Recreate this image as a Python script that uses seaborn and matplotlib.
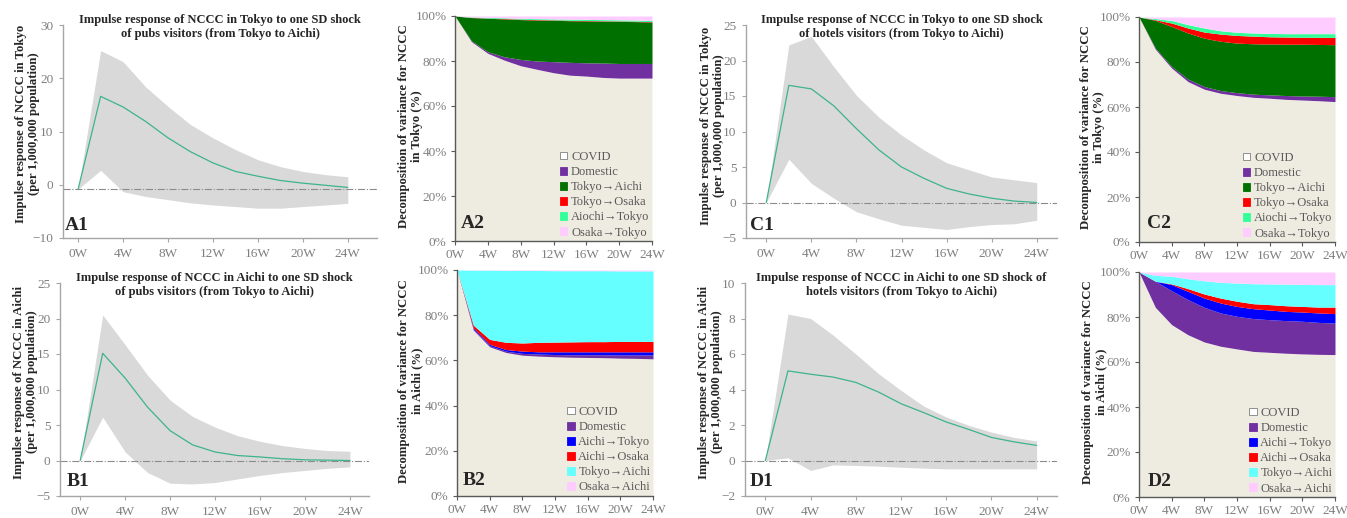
import matplotlib
matplotlib.use('Agg')
import matplotlib.pyplot as plt
from matplotlib.patches import Patch
import seaborn as sns
import pandas as pd

sns.set_theme(style='white')
plt.rcParams['font.family'] = ['Liberation Serif', 'DejaVu Serif']

# ---- data ---------------------------------------------------------------
weeks = [0, 2, 4, 6, 8, 10, 12, 14, 16, 18, 20, 22, 24]
tick_weeks = [0, 4, 8, 12, 16, 20, 24]
tick_week_labels = ['0W', '4W', '8W', '12W', '16W', '20W', '24W']

# impulse responses (median, upper, lower)
a1_resp = [-0.8, 16.6, 14.6, 11.9, 8.8, 6.2, 4.1, 2.5, 1.6, 0.8, 0.3, -0.1, -0.5]
a1_upper = [-0.8, 25.2, 23.1, 18.4, 14.7, 11.3, 8.8, 6.6, 4.7, 3.4, 2.5, 1.9, 1.5]
a1_lower = [-0.8, 2.7, -1.3, -2.2, -2.8, -3.4, -3.8, -4.1, -4.4, -4.4, -4.1, -3.8, -3.5]
a1_base = -0.8

c1_resp = [0.0, 16.5, 16.0, 13.6, 10.4, 7.4, 5.0, 3.4, 2.0, 1.2, 0.6, 0.2, 0.0]
c1_upper = [0.0, 22.2, 23.4, 19.1, 15.1, 12.0, 9.5, 7.4, 5.6, 4.6, 3.6, 3.2, 2.8]
c1_lower = [0.0, 6.1, 2.7, 0.6, -1.3, -2.3, -3.2, -3.5, -3.8, -3.4, -3.1, -3.0, -2.5]

b1_resp = [0.0, 15.1, 11.6, 7.5, 4.2, 2.2, 1.2, 0.7, 0.5, 0.25, 0.1, 0.05, 0.0]
b1_upper = [0.0, 20.5, 16.3, 12.0, 8.5, 6.2, 4.7, 3.5, 2.7, 2.1, 1.7, 1.4, 1.3]
b1_lower = [0.0, 6.1, 1.2, -1.7, -3.2, -3.3, -3.1, -2.6, -2.1, -1.7, -1.4, -1.1, -0.9]

d1_resp = [0.0, 5.05, 4.86, 4.7, 4.4, 3.86, 3.2, 2.7, 2.17, 1.75, 1.3, 1.05, 0.85]
d1_upper = [0.0, 8.25, 8.0, 7.06, 6.0, 4.9, 3.95, 3.07, 2.45, 1.98, 1.6, 1.3, 1.1]
d1_lower = [0.0, 0.15, -0.56, -0.25, -0.28, -0.32, -0.38, -0.43, -0.47, -0.47, -0.47, -0.47, -0.47]

# variance decomposition shares (%)
a2_covid = [100, 88.6, 83.4, 80.4, 77.9, 76.3, 74.8, 73.7, 73.3, 72.7, 72.4, 72.4, 72.4]
a2_domestic = [0, 0.4, 0.7, 1.5, 2.8, 3.7, 4.9, 5.7, 5.9, 6.4, 6.5, 6.5, 6.5]
a2_tokyo_aichi = [0, 10.3, 14.9, 16.8, 17.7, 18.2, 18.4, 18.5, 18.6, 18.6, 18.7, 18.6, 18.4]
a2_tokyo_osaka = [0, 0.1, 0.1, 0.2, 0.2, 0.2, 0.2, 0.2, 0.2, 0.2, 0.2, 0.2, 0.2]
a2_aichi_tokyo = [0, 0.2, 0.3, 0.3, 0.4, 0.4, 0.4, 0.5, 0.5, 0.5, 0.5, 0.5, 0.5]
a2_osaka_tokyo = [0, 0.4, 0.6, 0.8, 1.0, 1.2, 1.3, 1.4, 1.5, 1.6, 1.7, 1.8, 2.0]

c2_covid = [100, 85.7, 77.3, 71.3, 67.9, 66.1, 65.1, 64.3, 63.9, 63.4, 63.1, 62.8, 62.4]
c2_domestic = [0, 0.5, 0.7, 1.1, 1.2, 1.2, 1.3, 1.4, 1.5, 1.7, 1.8, 2.0, 2.2]
c2_tokyo_aichi = [0, 12.3, 17.8, 20.5, 21.5, 21.9, 22.0, 22.4, 22.6, 22.8, 23.0, 23.0, 23.1]
c2_tokyo_osaka = [0, 0.3, 1.5, 2.2, 2.7, 3.2, 3.4, 3.4, 3.2, 3.2, 3.1, 3.2, 3.2]
c2_aichi_tokyo = [0, 0.5, 1.2, 1.5, 1.8, 1.5, 1.4, 1.4, 1.5, 1.5, 1.6, 1.6, 1.7]
c2_osaka_tokyo = [0, 0.7, 1.5, 3.4, 4.9, 6.1, 6.8, 7.1, 7.3, 7.4, 7.4, 7.4, 7.4]

b2_covid = [100, 73.4, 66.0, 63.5, 62.3, 61.9, 61.6, 61.4, 61.3, 61.2, 61.0, 60.9, 60.7]
b2_domestic = [0, 0.5, 0.5, 0.6, 0.8, 0.9, 1.0, 1.1, 1.2, 1.3, 1.4, 1.5, 1.7]
b2_aichi_tokyo = [0, 0.5, 0.6, 0.7, 1.0, 1.0, 1.2, 1.3, 1.3, 1.3, 1.4, 1.4, 1.4]
b2_aichi_osaka = [0, 1.2, 2.2, 3.2, 3.6, 4.2, 4.3, 4.4, 4.5, 4.5, 4.6, 4.6, 4.6]
b2_tokyo_aichi = [0, 24.3, 30.6, 31.8, 32.1, 31.8, 31.6, 31.5, 31.4, 31.4, 31.2, 31.2, 31.2]
b2_osaka_aichi = [0, 0.1, 0.1, 0.2, 0.2, 0.2, 0.3, 0.3, 0.3, 0.3, 0.4, 0.4, 0.4]

d2_covid = [100, 84.3, 76.6, 72.1, 68.9, 67.0, 65.8, 64.7, 64.3, 63.9, 63.6, 63.4, 63.3]
d2_domestic = [0, 11.6, 15.1, 15.6, 15.4, 14.8, 14.5, 14.6, 14.5, 14.5, 14.5, 14.2, 14.0]
d2_aichi_tokyo = [0, 0.0, 2.7, 3.7, 4.1, 4.4, 4.4, 4.4, 4.3, 4.1, 4.1, 4.2, 4.2]
d2_aichi_osaka = [0, 0.0, 0.3, 1.2, 1.8, 2.2, 2.3, 2.2, 2.4, 2.5, 2.5, 2.6, 2.9]
d2_tokyo_aichi = [0, 2.6, 3.4, 4.4, 5.9, 7.0, 8.1, 8.9, 9.2, 9.6, 9.8, 10.0, 10.0]
d2_osaka_aichi = [0, 1.5, 1.9, 3.0, 3.9, 4.6, 4.9, 5.2, 5.3, 5.4, 5.5, 5.6, 5.6]

tokyo_labels = ['COVID', 'Domestic', 'Tokyo→Aichi', 'Tokyo→Osaka', 'Aiochi→Tokyo', 'Osaka→Tokyo']
aichi_labels = ['COVID', 'Domestic', 'Aichi→Tokyo', 'Aichi→Osaka', 'Tokyo→Aichi', 'Osaka→Aichi']
tokyo_colors = ['#EEECE1', '#7030A0', '#007000', '#FF0000', '#33FF99', '#FFCCFF']
aichi_colors = ['#EEECE1', '#7030A0', '#0000FF', '#FF0000', '#66FFFF', '#FFCCFF']

W, H = 1347, 518
TICK_COLOR = '#7F7F7F'
TICK_SIZE = 9.5


def px_axes(fig, left, top, right, bottom):
    """Axes from pixel box (left, top, right, bottom)"""
    return fig.add_axes([left / W, 1 - bottom / H, (right - left) / W, (bottom - top) / H])


def impulse_panel(ax, resp, upper, lower, base, ylim, ystep, xlim, title, ylabel, ylab_xy, letter, letter_pos):
    df = pd.DataFrame({'week': weeks, 'resp': resp, 'upper': upper, 'lower': lower})
    ax.fill_between(df['week'], df['lower'], df['upper'], color='#D9D9D9', lw=0)
    ax.axhline(base, color='#8C8C8C', lw=0.8, ls='-.')
    sns.lineplot(data=df, x='week', y='resp', ax=ax, color='#3DB38E', lw=0.9)
    ax.set_xlim(*xlim)
    ax.set_ylim(*ylim)
    ax.set_yticks(range(ylim[0], ylim[1] + 1, ystep))
    ax.set_xticks(tick_weeks)
    ax.set_xticklabels(tick_week_labels)
    for s in ['top', 'right']:
        ax.spines[s].set_visible(False)
    for s in ['left', 'bottom']:
        ax.spines[s].set_color('#A6A6A6')
        ax.spines[s].set_linewidth(1.0)
    ax.tick_params(bottom=True, left=True, direction='out', length=3, width=0.8,
                   color='#A6A6A6', labelcolor=TICK_COLOR, labelsize=TICK_SIZE, pad=4)
    ax.set_xlabel('')
    ax.set_ylabel(ylabel, fontsize=9.2, fontweight='bold', linespacing=1.1)
    ax.yaxis.set_label_coords(*ylab_xy)
    ax.text(0.5, 1.05, title, transform=ax.transAxes, ha='center', va='top',
            fontsize=9, fontweight='bold', linespacing=1.2)
    ax.text(letter_pos[0], letter_pos[1], letter, transform=ax.transAxes,
            ha='left', va='bottom', fontsize=14, fontweight='bold')


def decomp_panel(ax, series, labels, colors, ylabel, ylab_x, letter, letter_pos):
    ax.stackplot(weeks, *series, colors=colors, lw=0)
    ax.set_xlim(0, 24)
    ax.set_ylim(0, 100)
    ax.set_yticks([0, 20, 40, 60, 80, 100])
    ax.set_yticklabels([f'{v}%' for v in [0, 20, 40, 60, 80, 100]])
    ax.set_xticks(tick_weeks)
    ax.set_xticklabels(tick_week_labels)
    for s in ['top', 'right']:
        ax.spines[s].set_visible(False)
    for s in ['left', 'bottom']:
        ax.spines[s].set_color('#595959')
        ax.spines[s].set_linewidth(1.0)
    ax.tick_params(bottom=True, left=True, direction='out', length=3, width=0.8,
                   color='#595959', labelcolor=TICK_COLOR, labelsize=TICK_SIZE, pad=3)
    ax.set_ylabel(ylabel, fontsize=9.2, fontweight='bold', linespacing=1.1)
    ax.yaxis.set_label_coords(ylab_x, 0.51)
    handles = [Patch(facecolor='white' if i == 0 else c, edgecolor='#7F7F7F' if i == 0 else c, lw=0.6)
               for i, c in enumerate(colors)]
    leg = ax.legend(handles, labels, loc='lower right', frameon=False, fontsize=9,
                    labelspacing=0.25, handlelength=0.6, handleheight=0.6,
                    handletextpad=0.3, borderaxespad=0.1, borderpad=0.1)
    for t in leg.get_texts():
        t.set_color('#595959')
    ax.text(letter_pos[0], letter_pos[1], letter, transform=ax.transAxes,
            ha='left', va='bottom', fontsize=14, fontweight='bold')


fig = plt.figure(figsize=(W / 100, H / 100), dpi=100)

ax_a1 = px_axes(fig, 63, 25, 377, 238)
ax_a2 = px_axes(fig, 455, 16, 652, 241)
ax_c1 = px_axes(fig, 746, 25, 1057, 238)
ax_c2 = px_axes(fig, 1139, 17, 1335, 242)
ax_b1 = px_axes(fig, 60, 283, 369, 496)
ax_b2 = px_axes(fig, 457, 270, 653, 496)
ax_d1 = px_axes(fig, 745, 283, 1057, 496)
ax_d2 = px_axes(fig, 1139, 272, 1335, 497)

impulse_panel(ax_a1, a1_resp, a1_upper, a1_lower, a1_base, (-10, 30), 10, (-1.35, 26.6),
              'Impulse response of NCCC in Tokyo to one SD shock\nof pubs visitors (from Tokyo to Aichi)',
              'Impulse response of NCCC in Tokyo\n(per 1,000,000 population)', (-0.073, 0.537), 'A1', (0.005, 0.02))
impulse_panel(ax_c1, c1_resp, c1_upper, c1_lower, 0, (-5, 25), 5, (-1.8, 25.8),
              'Impulse response of NCCC in Tokyo to one SD shock\nof hotels visitors (from Tokyo to Aichi)',
              'Impulse response of NCCC in Tokyo\n(per 1,000,000 population)', (-0.068, 0.526), 'C1', (0.013, 0.02))
impulse_panel(ax_b1, b1_resp, b1_upper, b1_lower, 0, (-5, 25), 5, (-1.8, 25.7),
              'Impulse response of NCCC in Aichi to one SD shock\nof pubs visitors (from Tokyo to Aichi)',
              'Impulse response of NCCC in Aichi\n(per 1,000,000 population)', (-0.071, 0.535), 'B1', (0.02, 0.03))
impulse_panel(ax_d1, d1_resp, d1_upper, d1_lower, 0, (-2, 10), 2, (-1.8, 25.8),
              'Impulse response of NCCC in Aichi to one SD shock of\nhotels visitors (from Tokyo to Aichi)',
              'Impulse response of NCCC in Aichi\n(per 1,000,000 population)', (-0.07, 0.535), 'D1', (0.016, 0.03))

decomp_panel(ax_a2, [a2_covid, a2_domestic, a2_tokyo_aichi, a2_tokyo_osaka, a2_aichi_tokyo, a2_osaka_tokyo],
             tokyo_labels, tokyo_colors, 'Decomposition of variance for NCCC\nin Tokyo (%)', -0.162, 'A2', (0.03, 0.04))
decomp_panel(ax_c2, [c2_covid, c2_domestic, c2_tokyo_aichi, c2_tokyo_osaka, c2_aichi_tokyo, c2_osaka_tokyo],
             tokyo_labels, tokyo_colors, 'Decomposition of variance for NCCC\nin Tokyo (%)', -0.173, 'C2', (0.04, 0.045))
decomp_panel(ax_b2, [b2_covid, b2_domestic, b2_aichi_tokyo, b2_aichi_osaka, b2_tokyo_aichi, b2_osaka_aichi],
             aichi_labels, aichi_colors, 'Decomposition of variance for NCCC\nin Aichi (%)', -0.173, 'B2', (0.03, 0.03))
decomp_panel(ax_d2, [d2_covid, d2_domestic, d2_aichi_tokyo, d2_aichi_osaka, d2_tokyo_aichi, d2_osaka_aichi],
             aichi_labels, aichi_colors, 'Decomposition of variance for NCCC\nin Aichi (%)', -0.163, 'D2', (0.045, 0.03))

fig.savefig('out.png', dpi=100)
plt.close(fig)
